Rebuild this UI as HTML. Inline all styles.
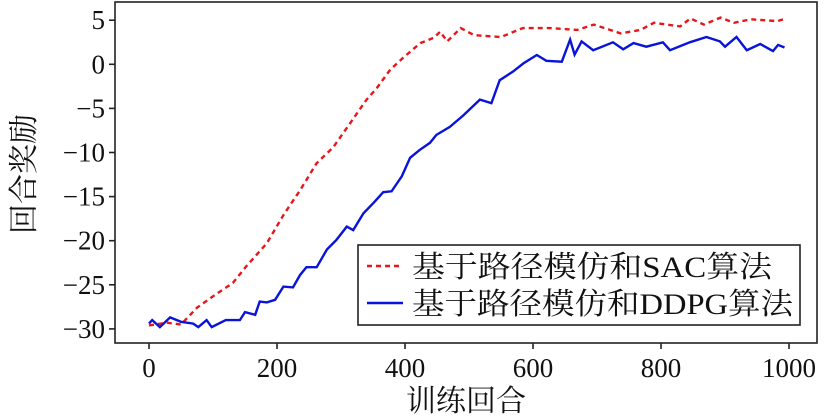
<!DOCTYPE html>
<html><head><meta charset="utf-8"><style>
html,body{margin:0;padding:0;background:#fff;}
svg{display:block;font-family:"Liberation Serif","Noto Serif CJK SC",serif;}
</style></head><body>
<svg id="chart" width="825" height="417" viewBox="0 0 825 417" xmlns="http://www.w3.org/2000/svg">
<g id="axes"></g>
<g id="series"></g>
<text transform="translate(34,174) rotate(-90)" text-anchor="middle" font-size="30" fill="#111">回合奖励</text>
<text x="466" y="411" text-anchor="middle" font-size="30" fill="#111">训练回合</text>
<g>
<rect x="358" y="245" width="442" height="80" fill="#fff" stroke="#222" stroke-width="1.6"/>
<line x1="367" y1="266" x2="403" y2="266" stroke="#e8161b" stroke-width="2.4" stroke-dasharray="5,4"/>
<text x="412" y="277" font-size="30" fill="#111" textLength="360" lengthAdjust="spacingAndGlyphs">基于路径模仿和SAC算法</text>
<line x1="367" y1="303" x2="403" y2="303" stroke="#0a14d8" stroke-width="2.4"/>
<text x="412" y="314" font-size="30" fill="#111" textLength="381" lengthAdjust="spacingAndGlyphs">基于路径模仿和DDPG算法</text>
</g>
</svg>
<script>
const xTicks=[0,200,400,600,800,1000];
const yTicks=[5,0,-5,-10,-15,-20,-25,-30];
const sacX=[0,28,50,75,100,131,152,184,210,236,262,288,314,340,356,377,398,424,445,455,466,487,508,550,584,627,669,695,737,768,789,830,846,867,893,914,940,982,995];
const sacY=[-29.6,-29.3,-29.5,-27.6,-26.3,-24.8,-22.9,-20.3,-17.1,-14.3,-11.2,-9.4,-6.7,-4.0,-2.7,-0.6,0.8,2.4,3.0,3.7,2.6,4.1,3.3,3.1,4.1,4.1,3.9,4.5,3.5,3.9,4.7,4.3,5.2,4.5,5.3,4.7,5.1,4.9,5.2];
const ddpgX=[0,5,17,33,50,69,77,90,98,120,142,150,166,173,184,197,210,225,236,246,262,278,293,309,319,335,351,366,379,395,408,423,439,449,470,491,517,535,548,569,585,606,621,645,658,665,676,694,725,741,757,777,803,814,845,871,892,900,918,934,955,975,983,993];
const ddpgY=[-29.4,-29.0,-29.8,-28.7,-29.2,-29.4,-29.8,-29.0,-29.8,-29.0,-29.0,-28.1,-28.4,-26.9,-27.0,-26.7,-25.2,-25.3,-23.9,-23.0,-23.0,-21.0,-19.9,-18.4,-18.8,-16.9,-15.7,-14.5,-14.4,-12.7,-10.6,-9.7,-8.9,-8.0,-7.1,-5.8,-4.0,-4.4,-1.8,-0.8,0.1,1.05,0.4,0.3,2.8,1.1,2.6,1.6,2.5,1.7,2.4,2.0,2.5,1.6,2.5,3.1,2.6,2.0,3.1,1.6,2.3,1.5,2.2,1.9];
const NS='http://www.w3.org/2000/svg';
const L=115,R=817,T=2,B=343;
function xs(v){return 149+v*0.64;}
function ys(v){return 64.3-v*8.82;}
const axes=document.getElementById('axes');
const frame=document.createElementNS(NS,'rect');


frame.setAttribute('x',L);frame.setAttribute('y',T);frame.setAttribute('width',R-L);frame.setAttribute('height',B-T);
frame.setAttribute('fill','none');frame.setAttribute('stroke','#222');frame.setAttribute('stroke-width','1.6');
axes.appendChild(frame);
xTicks.forEach(t=>{
 const ln=document.createElementNS(NS,'line');
 
 
 ln.setAttribute('x1',xs(t));ln.setAttribute('x2',xs(t));ln.setAttribute('y1',B);ln.setAttribute('y2',B+6);
 ln.setAttribute('stroke','#222');ln.setAttribute('stroke-width','1.6');axes.appendChild(ln);
 const tx=document.createElementNS(NS,'text');
 
 
 tx.setAttribute('x',xs(t));tx.setAttribute('y',377);tx.setAttribute('text-anchor','middle');
 tx.setAttribute('font-size','27');tx.setAttribute('fill','#111');tx.textContent=t;axes.appendChild(tx);
});
yTicks.forEach(t=>{
 const ln=document.createElementNS(NS,'line');
 
 
 ln.setAttribute('x1',L-6);ln.setAttribute('x2',L);ln.setAttribute('y1',ys(t));ln.setAttribute('y2',ys(t));
 ln.setAttribute('stroke','#222');ln.setAttribute('stroke-width','1.6');axes.appendChild(ln);
 const tx=document.createElementNS(NS,'text');
 
 
 tx.setAttribute('x',L-10);tx.setAttribute('y',ys(t)+9);tx.setAttribute('text-anchor','end');
 tx.setAttribute('font-size','27');tx.setAttribute('fill','#111');tx.textContent=(t<0?'\u2212'+(-t):t);axes.appendChild(tx);
});
const series=document.getElementById('series');
function draw(xv,yv,color,dash,name){
 const p=document.createElementNS(NS,'polyline');
 
 
 p.setAttribute('points',xv.map((x,i)=>xs(x).toFixed(1)+','+ys(yv[i]).toFixed(1)).join(' '));
 p.setAttribute('fill','none');p.setAttribute('stroke',color);p.setAttribute('stroke-width','2.4');
 if(dash)p.setAttribute('stroke-dasharray',dash);
 series.appendChild(p);
}
draw(sacX,sacY,'#e8161b','5,4','sac-line');
draw(ddpgX,ddpgY,'#0a14d8',null,'ddpg-line');
</script>
</body></html>
